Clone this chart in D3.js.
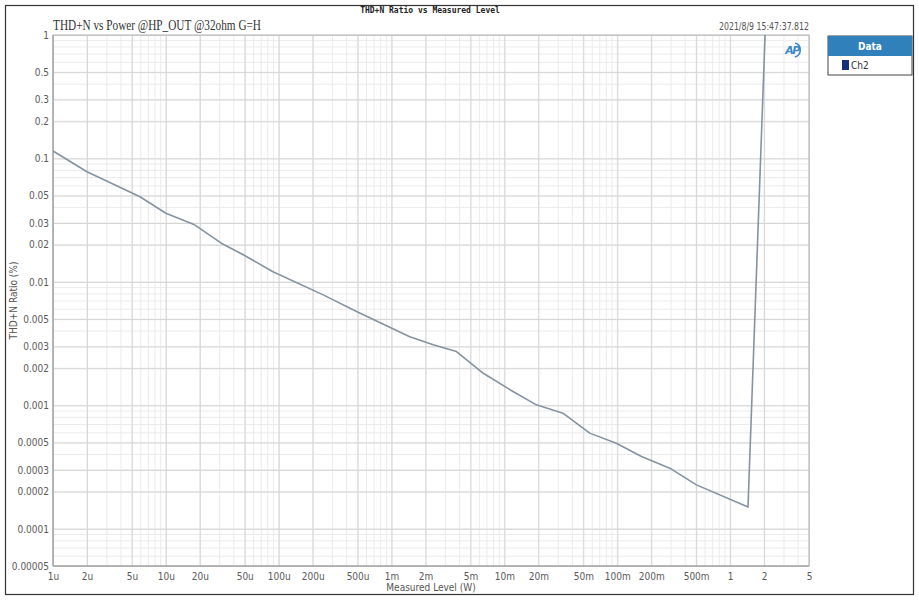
<!DOCTYPE html>
<html>
<head>
<meta charset="utf-8">
<script src="https://cdn.jsdelivr.net/npm/d3@7"></script>
<style>
  body { margin: 0; background: #fff; }
  svg { display: block; }
</style>
</head>
<body>
<div id="chart"></div>
<script>
// measured level (W) and THD+N ratio (%)
const levels = [1e-6, 2e-6, 5.9e-6, 1e-5, 1.8e-5, 3.1e-5, 4.85e-5, 8.9e-5, 2.48e-4, 5.0e-4,
  1.45e-3, 2.34e-3, 3.76e-3, 6.5e-3, 1.12e-2, 1.92e-2, 3.3e-2, 5.7e-2, 9.8e-2, 0.164,
  0.292, 0.503, 1.44, 2.04];
const thdn = [0.115, 0.078, 0.049, 0.036, 0.029, 0.0206, 0.0166, 0.0121, 0.00785, 0.0057,
  0.0036, 0.0031, 0.00273, 0.00182, 0.00134, 0.00101, 0.000865, 0.000596, 0.000494, 0.000385,
  0.00031, 0.000227, 0.00015, 1.0];

const xTicks = [1e-6, 2e-6, 5e-6, 1e-5, 2e-5, 5e-5, 1e-4, 2e-4, 5e-4, 1e-3, 2e-3, 5e-3,
  1e-2, 2e-2, 5e-2, 0.1, 0.2, 0.5, 1, 2, 5];
const xTickLabels = ['1u', '2u', '5u', '10u', '20u', '50u', '100u', '200u', '500u', '1m', '2m', '5m',
  '10m', '20m', '50m', '100m', '200m', '500m', '1', '2', '5'];
const yTicks = [1, 0.5, 0.3, 0.2, 0.1, 0.05, 0.03, 0.02, 0.01, 0.005, 0.003, 0.002,
  0.001, 0.0005, 0.0003, 0.0002, 0.0001, 0.00005];
const yTickLabels = ['1', '0.5', '0.3', '0.2', '0.1', '0.05', '0.03', '0.02', '0.01', '0.005', '0.003', '0.002',
  '0.001', '0.0005', '0.0003', '0.0002', '0.0001', '0.00005'];

const seriesName = 'Ch2';

const width = 919;
const height = 600;
const plot = { left: 53, right: 809, top: 35, bottom: 566 };

const svg = d3.select('#chart')
  .append('svg')
  .attr('width', width)
  .attr('height', height);

const xScale = d3.scaleLog()
  .domain([1e-6, 5])
  .range([plot.left, plot.right]);

const yScale = d3.scaleLog()
  .domain([0.00005, 1])
  .range([plot.bottom, plot.top]);

// outer frame
svg.append('rect')
  .attr('x', 5.5).attr('y', 5.5)
  .attr('width', 908).attr('height', 589)
  .attr('fill', 'none')
  .attr('stroke', '#333')
  .attr('stroke-width', 1.2);

// minor grid: every 1..9 in each decade
const minorX = [];
for (let e = -6; e <= 0; e++) {
  for (let m = 1; m <= 9; m++) {
    const v = m * Math.pow(10, e);
    if (v <= 5) minorX.push(v);
  }
}
const minorY = [];
for (let e = -5; e <= -1; e++) {
  for (let m = 1; m <= 9; m++) {
    const v = m * Math.pow(10, e);
    if (v >= 0.00005) minorY.push(v);
  }
}

const grid = svg.append('g').attr('class', 'grid');

grid.selectAll('line.minor-x')
  .data(minorX)
  .join('line')
  .attr('class', 'minor-x')
  .attr('x1', d => xScale(d)).attr('x2', d => xScale(d))
  .attr('y1', plot.top).attr('y2', plot.bottom)
  .attr('stroke', '#ebebeb');

grid.selectAll('line.minor-y')
  .data(minorY)
  .join('line')
  .attr('class', 'minor-y')
  .attr('y1', d => yScale(d)).attr('y2', d => yScale(d))
  .attr('x1', plot.left).attr('x2', plot.right)
  .attr('stroke', '#ebebeb');

// major grid on labelled values
svg.append('g')
  .attr('transform', `translate(0, ${plot.bottom})`)
  .call(d3.axisBottom(xScale).tickValues(xTicks).tickSize(-(plot.bottom - plot.top)).tickFormat(''))
  .call(g => g.select('.domain').remove())
  .call(g => g.selectAll('line').attr('stroke', '#d6d6d6'));

svg.append('g')
  .attr('transform', `translate(${plot.left}, 0)`)
  .call(d3.axisLeft(yScale).tickValues(yTicks).tickSize(-(plot.right - plot.left)).tickFormat(''))
  .call(g => g.select('.domain').remove())
  .call(g => g.selectAll('line').attr('stroke', '#d6d6d6'));

// plot border
svg.append('rect')
  .attr('x', plot.left).attr('y', plot.top)
  .attr('width', plot.right - plot.left).attr('height', plot.bottom - plot.top)
  .attr('fill', 'none')
  .attr('stroke', '#b4b4b4');
svg.append('line')
  .attr('x1', plot.left).attr('x2', plot.left)
  .attr('y1', plot.top).attr('y2', plot.bottom)
  .attr('stroke', '#9a9a9a');
svg.append('line')
  .attr('x1', plot.left).attr('x2', plot.right)
  .attr('y1', plot.bottom).attr('y2', plot.bottom)
  .attr('stroke', '#9a9a9a');

// tick labels
const labelFont = '"DejaVu Sans Condensed", "Liberation Sans Narrow", "Noto Sans", sans-serif';

svg.append('g')
  .attr('transform', `translate(0, ${plot.bottom})`)
  .call(d3.axisBottom(xScale).tickValues(xTicks).tickSize(0).tickPadding(7)
    .tickFormat((d, i) => xTickLabels[i]))
  .call(g => g.select('.domain').remove())
  .call(g => g.selectAll('text')
    .attr('font-family', labelFont)
    .attr('font-size', 10)
    .attr('fill', '#5a5a5a'));

svg.append('g')
  .attr('transform', `translate(${plot.left}, 0)`)
  .call(d3.axisLeft(yScale).tickValues(yTicks).tickSize(0).tickPadding(4)
    .tickFormat((d, i) => yTickLabels[i]))
  .call(g => g.select('.domain').remove())
  .call(g => g.selectAll('text')
    .attr('font-family', labelFont)
    .attr('font-size', 10)
    .attr('fill', '#5a5a5a'));

// data line
svg.append('defs').append('clipPath')
  .attr('id', 'clip')
  .append('rect')
  .attr('x', plot.left).attr('y', plot.top)
  .attr('width', plot.right - plot.left).attr('height', plot.bottom - plot.top);

const line = d3.line()
  .x((d, i) => xScale(levels[i]))
  .y((d, i) => yScale(thdn[i]));

svg.append('path')
  .datum(thdn)
  .attr('clip-path', 'url(#clip)')
  .attr('d', line)
  .attr('fill', 'none')
  .attr('stroke', '#8593a1')
  .attr('stroke-width', 1.6)
  .attr('stroke-linejoin', 'round');

// titles
svg.append('text')
  .attr('x', 430).attr('y', 13)
  .attr('text-anchor', 'middle')
  .attr('font-family', '"DejaVu Sans Mono", monospace')
  .attr('font-size', 8)
  .attr('font-weight', 'bold')
  .attr('fill', '#222')
  .text('THD+N Ratio vs Measured Level');

svg.append('text')
  .attr('x', plot.left).attr('y', 30)
  .attr('font-family', '"Liberation Serif", "DejaVu Serif", serif')
  .attr('font-size', 14)
  .attr('textLength', 208)
  .attr('lengthAdjust', 'spacingAndGlyphs')
  .attr('fill', '#333')
  .text('THD+N vs Power @HP_OUT @32ohm G=H');

svg.append('text')
  .attr('x', plot.right - 90).attr('y', 30)
  .attr('font-family', labelFont)
  .attr('font-size', 10.5)
  .attr('textLength', 90)
  .attr('lengthAdjust', 'spacingAndGlyphs')
  .attr('fill', '#555')
  .text('2021/8/9 15:47:37.812');

// axis titles
svg.append('text')
  .attr('x', (plot.left + plot.right) / 2).attr('y', 591)
  .attr('text-anchor', 'middle')
  .attr('font-family', labelFont)
  .attr('font-size', 10)
  .attr('fill', '#555')
  .text('Measured Level (W)');

svg.append('text')
  .attr('transform', `translate(17, ${(plot.top + plot.bottom) / 2}) rotate(-90)`)
  .attr('text-anchor', 'middle')
  .attr('font-family', labelFont)
  .attr('font-size', 10)
  .attr('fill', '#555')
  .text('THD+N Ratio (%)');

// AP logo
const logo = svg.append('g').attr('transform', 'translate(793, 50)');
logo.append('path')
  .attr('d', d3.arc()({ innerRadius: 6.5, outerRadius: 8, startAngle: 0.3, endAngle: 2.9 }))
  .attr('fill', '#3a87c8');
logo.append('text')
  .attr('x', -1).attr('y', 4)
  .attr('text-anchor', 'middle')
  .attr('font-family', '"DejaVu Sans", sans-serif')
  .attr('font-size', 11)
  .attr('font-style', 'italic')
  .attr('font-weight', 'bold')
  .attr('letter-spacing', -1.5)
  .attr('fill', '#3a87c8')
  .text('AP');

// legend
const legend = svg.append('g').attr('transform', 'translate(828, 36)');
legend.append('rect')
  .attr('width', 84).attr('height', 39)
  .attr('fill', '#fff')
  .attr('stroke', '#444');
legend.append('rect')
  .attr('width', 84).attr('height', 20)
  .attr('fill', '#2f80bb');
legend.append('text')
  .attr('x', 42).attr('y', 14)
  .attr('text-anchor', 'middle')
  .attr('font-family', labelFont)
  .attr('font-size', 10)
  .attr('font-weight', 'bold')
  .attr('fill', '#fff')
  .text('Data');
legend.append('rect')
  .attr('x', 14).attr('y', 24)
  .attr('width', 7).attr('height', 10)
  .attr('fill', '#14307a');
legend.append('text')
  .attr('x', 23).attr('y', 33)
  .attr('font-family', labelFont)
  .attr('font-size', 10)
  .attr('fill', '#333')
  .text(seriesName);
</script>
</body>
</html>
